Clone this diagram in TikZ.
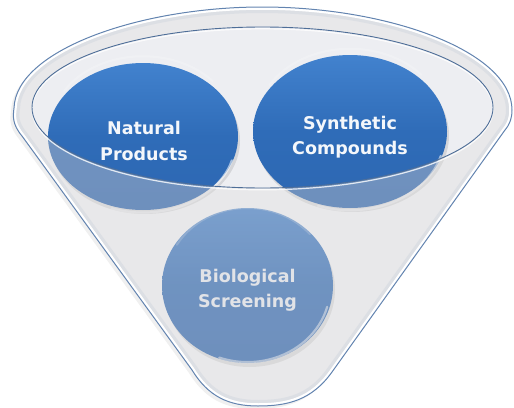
\documentclass[tikz,border=0pt]{standalone}
\usepackage{fontspec}
\newfontfamily\lblfont{DejaVu Sans}
\definecolor{funnelbase}{HTML}{FFFFFF}
\definecolor{rimfill}{HTML}{EDEEF2}
\definecolor{bluetop}{HTML}{4282CE}
\definecolor{bluemid}{HTML}{2F6CB8}
\definecolor{bluebot}{HTML}{2D67B2}
\definecolor{veilcol}{HTML}{C9C9CD}
\definecolor{rimline}{HTML}{4E6E98}
\definecolor{edgeline}{HTML}{6384B0}
\definecolor{bandgray}{HTML}{DCDFE4}
\definecolor{lbltext}{HTML}{F4F7FB}
\tikzset{
  lbl/.style={font=\lblfont\bfseries\fontsize{17.5}{25.5}\selectfont, text=lbltext, align=center, inner sep=0pt},
  disc/.style={top color=bluetop, bottom color=bluebot, middle color=bluemid},
  discshadow/.style={fill=black, opacity=0.10},
  gloss/.style={white, opacity=0.55, line width=2.2pt, line cap=round},
  tophl/.style={white, opacity=0.22, line width=2pt, line cap=round},
}
\def\funnel{(22,136) .. controls (12,124) and (13,116) .. (14,108) .. controls (16,50) and (140,7) .. (262,7) .. controls (390,7) and (512,52) .. (512,110) .. controls (512,118) and (510,124) .. (505,130) -- (332,372) .. controls (312,400) and (288,406) .. (258,406) .. controls (228,406) and (208,396) .. (192,370) -- cycle}
\def\rim{(262.5,107.5) ellipse [x radius=230.5, y radius=80.5]}
\begin{document}
\begin{tikzpicture}[x=1pt,y=-1pt]
\useasboundingbox (0,0) rectangle (514,407);
% funnel body
\fill[black, opacity=0.06] [shift={(-3,3)}] \funnel;
\fill[funnelbase] \funnel;
\fill[rimfill] \rim;
% disc shadows
\fill[discshadow] (145,140.5) ellipse [x radius=95, y radius=73.5];
\fill[discshadow] (352,135.5) ellipse [x radius=97, y radius=76.5];
\fill[discshadow] (249.5,289.5) ellipse [x radius=85.5, y radius=77.5];
% discs
\shade[disc] (143,136.5) ellipse [x radius=95, y radius=73.5];
\shade[disc] (350,131.5) ellipse [x radius=97, y radius=76.5];
\shade[disc] (247.5,285.5) ellipse [x radius=85.5, y radius=77.5];
% glossy rims
\draw[gloss] (143,136.5) ++(15:92) arc [start angle=15, end angle=110, x radius=92, y radius=70.5];
\draw[gloss] (350,131.5) ++(15:94) arc [start angle=15, end angle=110, x radius=94, y radius=73.5];
\draw[gloss] (247.5,285.5) ++(15:82.5) arc [start angle=15, end angle=110, x radius=82.5, y radius=74.5];
\draw[tophl] (143,136.5) ++(-150:91) arc [start angle=-150, end angle=-40, x radius=91, y radius=69.5];
\draw[tophl] (350,131.5) ++(-150:93) arc [start angle=-150, end angle=-40, x radius=93, y radius=72.5];
\draw[tophl] (247.5,285.5) ++(-150:81.5) arc [start angle=-150, end angle=-40, x radius=81.5, y radius=73.5];
% labels
\node[lbl] (np) at (144,141) {Natural\\Products};
\node[lbl] (sc) at (350,137) {Synthetic\\Compounds};
\node[lbl] (bs) at (247.5,290) {Biological\\Screening};
% translucent front face of the funnel
\fill[veilcol, opacity=0.42, even odd rule] \funnel \rim;
% rim band and edge highlights
\begin{scope}
  \clip \funnel;
  \draw[bandgray, line width=12pt] \funnel;
  \draw[white, line width=5.5pt] \funnel;
\end{scope}
\draw[white, opacity=0.8, line width=1.2pt] (262.5,109.3) ellipse [x radius=230.5, y radius=80.5];
\draw[rimline, line width=0.9pt] \rim;
\draw[edgeline, line width=1pt] \funnel;
\end{tikzpicture}
\end{document}
